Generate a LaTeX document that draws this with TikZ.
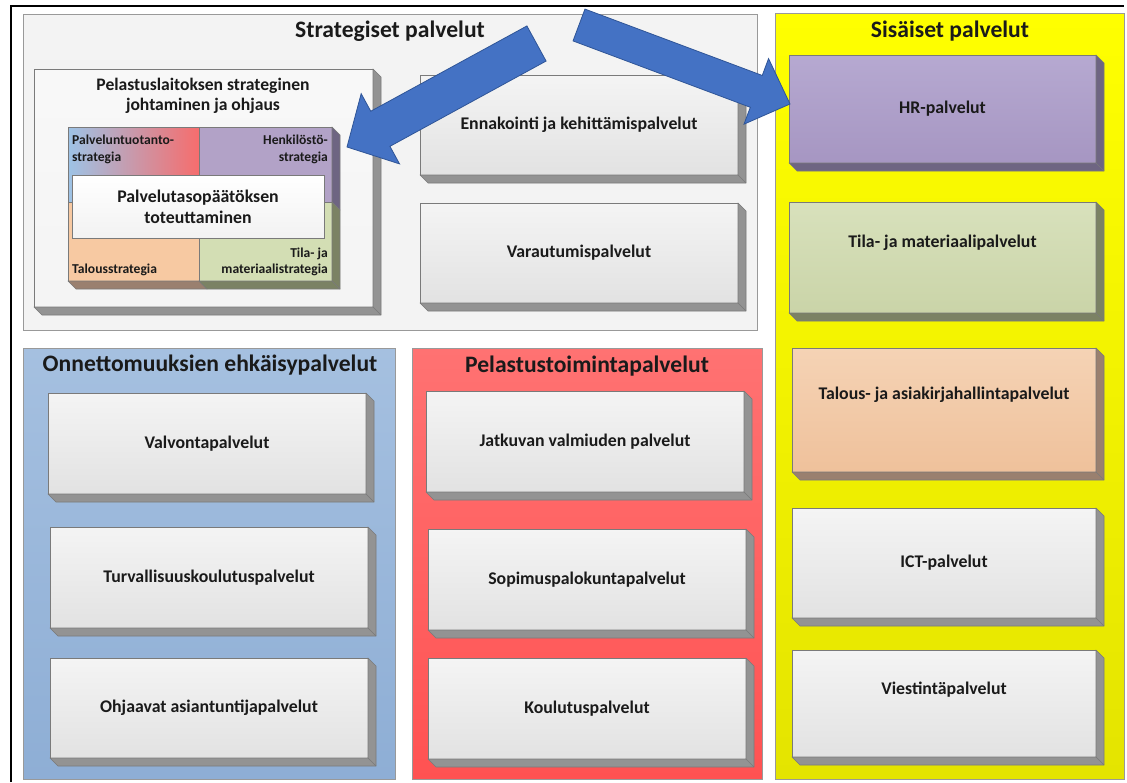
\documentclass[tikz,border=0pt]{standalone}
\usepackage{fontspec}
\setmainfont{Carlito}
\usetikzlibrary{calc}

\definecolor{boxtop}{HTML}{F4F4F4}
\definecolor{boxbot}{HTML}{E2E2E2}
\definecolor{boxside}{HTML}{939393}
\definecolor{edgegrey}{HTML}{7A7A7A}
\definecolor{stratfill}{HTML}{F3F3F3}
\definecolor{bluetop}{HTML}{A5C0E0}
\definecolor{bluebot}{HTML}{8EAED5}
\definecolor{redtop}{HTML}{FF7272}
\definecolor{redbot}{HTML}{FF5252}
\definecolor{yeltop}{HTML}{FFFF00}
\definecolor{yelbot}{HTML}{E4E400}
\definecolor{hrtop}{HTML}{B6A9D1}
\definecolor{hrbot}{HTML}{A696C2}
\definecolor{hrside}{HTML}{6E6582}
\definecolor{greentop}{HTML}{D8E1BC}
\definecolor{greenbot}{HTML}{CAD4A8}
\definecolor{greenside}{HTML}{7B8264}
\definecolor{peachtop}{HTML}{F5D3B5}
\definecolor{peachbot}{HTML}{EFC19B}
\definecolor{peachside}{HTML}{9A806F}
\definecolor{qblue}{HTML}{9DC3E6}
\definecolor{qred}{HTML}{F66D6D}
\definecolor{qpurple}{HTML}{B2A2C7}
\definecolor{qpeach}{HTML}{F7C9A2}
\definecolor{qgreen}{HTML}{D3DEB4}
\definecolor{arrowblue}{HTML}{4472C4}
\definecolor{arrowedge}{HTML}{2F5597}
\definecolor{ink}{HTML}{1A1A1A}

\tikzset{
  panel/.style={draw=black!40, line width=0.7pt},
  paneltitle/.style={font=\bfseries\fontsize{23.6}{28}\selectfont, text=ink, inner sep=0pt},
  face/.style={draw=edgegrey, line width=0.7pt, inner sep=0pt, outer sep=0pt,
    align=center, text=ink, font=\bfseries\fontsize{17.8}{21}\selectfont},
  greyface/.style={face, top color=boxtop, bottom color=boxbot},
  hrface/.style={face, top color=hrtop, bottom color=hrbot},
  greenface/.style={face, top color=greentop, bottom color=greenbot},
  peachface/.style={face, top color=peachtop, bottom color=peachbot},
  quad/.style={draw=edgegrey, line width=0.6pt, inner sep=0pt, outer sep=0pt},
  quadlabel/.style={font=\bfseries\fontsize{13.6}{16.5}\selectfont, text=ink, inner sep=0pt},
  sideface/.style={draw=edgegrey, line width=0.6pt, line join=round},
  blockarrow/.style={fill=arrowblue, draw=arrowedge, line width=0.8pt, line join=miter}
}

% raised box: name, x1, y1, x2, y2, front style, side colour, label
\newcommand\raisedbox[8]{%
  \node[#6, minimum width={(#4-#2)*1pt}, minimum height={(#5-#3)*1pt}]
    (#1) at ({(#2+#4)/2},{(#3+#5)/2}) {#8};
  \filldraw[sideface, fill=#7] (#1.north east) -- ++(8,8)
    -- ($(#1.south east)+(8,8)$) -- ($(#1.south west)+(8,8)$)
    -- (#1.south west) -- (#1.south east) -- cycle;
  \draw[sideface] (#1.south east) -- ++(8,8);
}

\begin{document}
\begin{tikzpicture}[x=1pt,y=-1pt]
\useasboundingbox[fill=white] (0,0) rectangle (1127,782);

% outer frame
\draw[line width=2.6pt] (11,782) -- (11,6) -- (1124,6);

% ---------- panels ----------
\filldraw[panel, fill=stratfill] (23,14) rectangle (757,330);
\node[paneltitle] (tstrat) at (390,31) {Strategiset palvelut};

\shade[top color=yeltop, bottom color=yelbot] (775,13) rectangle (1124,779);
\draw[panel] (775,13) rectangle (1124,779);
\node[paneltitle] (tsis) at (950,31) {Sisäiset palvelut};

\shade[top color=bluetop, bottom color=bluebot] (23,348) rectangle (395,779);
\draw[panel] (23,348) rectangle (395,779);
\node[paneltitle] (tonn) at (210,365) {Onnettomuuksien ehkäisypalvelut};

\shade[top color=redtop, bottom color=redbot] (412,348) rectangle (762,779);
\draw[panel] (412,348) rectangle (762,779);
\node[paneltitle] (tpel) at (587,366) {Pelastustoimintapalvelut};

% ---------- strategic management block ----------
\raisedbox{johto}{34}{69}{373}{307}{face, top color=boxtop!60!white, bottom color=boxtop}{boxside}{}
\node[align=center, font=\bfseries\fontsize{17.6}{20.5}\selectfont, text=ink, inner sep=0pt]
  (johtot) at (203,96) {Pelastuslaitoksen strateginen\\johtaminen ja ohjaus};

% four strategy quadrants
\node[quad, minimum width=131pt, minimum height=75pt, left color=qblue, right color=qred]
  (q1) at (133.5,164.5) {};
\node[quad, minimum width=133pt, minimum height=75pt, fill=qpurple] (q2) at (265.5,164.5) {};
\node[quad, minimum width=131pt, minimum height=79pt, fill=qpeach] (q3) at (133.5,241.5) {};
\node[quad, minimum width=133pt, minimum height=79pt, fill=qgreen] (q4) at (265.5,241.5) {};

\filldraw[sideface, fill=hrside] (q2.north east) -- ++(8,8) -- ($(q2.south east)+(8,8)$) -- (q2.south east) -- cycle;
\filldraw[sideface, fill=greenside] (q4.north east) -- ++(8,8) -- ($(q4.south east)+(8,8)$) -- (q4.south east) -- cycle;
\filldraw[sideface, fill=peachside] (q3.south west) -- ++(8,8) -- ($(q3.south east)+(8,8)$) -- (q3.south east) -- cycle;
\filldraw[sideface, fill=greenside] (q4.south west) -- ++(8,8) -- ($(q4.south east)+(8,8)$) -- (q4.south east) -- cycle;

\node[quadlabel, anchor=north west, align=left] (l1) at ($(q1.north west)+(4,8)$) {Palveluntuotanto-\\strategia};
\node[quadlabel, anchor=north east, align=right] (l2) at ($(q2.north east)+(-4,8)$) {Henkilöstö-\\strategia};
\node[quadlabel, anchor=south west, align=left] (l3) at ($(q3.south west)+(4,-5)$) {Talousstrategia};
\node[quadlabel, anchor=south east, align=right] (l4) at ($(q4.south east)+(-4,-5)$) {Tila- ja\\materiaalistrategia};

\node[draw=edgegrey, line width=0.6pt, top color=white, bottom color=white!95!black,
  minimum width=252pt, minimum height=63pt, inner sep=0pt, align=center, text=ink,
  font=\bfseries\fontsize{17.8}{21}\selectfont]
  (toteutus) at (198,206.5) {Palvelutasopäätöksen\\toteuttaminen};

% ---------- service boxes ----------
\raisedbox{enn}{420}{75}{738}{175}{greyface}{boxside}{Ennakointi ja kehittämispalvelut}
\raisedbox{var}{420}{203}{738}{303}{greyface}{boxside}{Varautumispalvelut}

\raisedbox{hr}{789}{55}{1096}{163}{hrface}{hrside}{HR-palvelut}
\raisedbox{tila}{789}{202}{1096}{313}{greenface}{greenside}{Tila- ja materiaalipalvelut\\[12pt]}
\raisedbox{talous}{792}{348}{1096}{472}{peachface}{peachside}{Talous- ja asiakirjahallintapalvelut\\[12pt]}
\raisedbox{ict}{792}{508}{1096}{618}{greyface}{boxside}{ICT-palvelut}
\raisedbox{viesti}{792}{650}{1096}{757}{greyface}{boxside}{Viestintäpalvelut\\[10pt]}

\raisedbox{valv}{48}{393}{366}{494}{greyface}{boxside}{Valvontapalvelut}
\raisedbox{turv}{50}{527}{368}{628}{greyface}{boxside}{Turvallisuuskoulutuspalvelut}
\raisedbox{ohj}{50}{658}{368}{758}{greyface}{boxside}{Ohjaavat asiantuntijapalvelut}

\raisedbox{jatk}{426}{391}{744}{492}{greyface}{boxside}{Jatkuvan valmiuden palvelut}
\raisedbox{sop}{428}{529}{746}{630}{greyface}{boxside}{Sopimuspalokuntapalvelut}
\raisedbox{koul}{428}{658}{746}{759}{greyface}{boxside}{Koulutuspalvelut}

% ---------- block arrows ----------
\coordinate (a1t) at (536.5,43.5);
\coordinate (a1h) at (347,147);
\coordinate (a1b) at ($(a1h)!38pt!(a1t)$);
\filldraw[blockarrow] ($(a1t)!20pt!90:(a1h)$) -- ($(a1b)!20pt!-90:(a1t)$)
  -- ($(a1b)!40pt!-90:(a1t)$) -- (a1h) -- ($(a1b)!40pt!90:(a1t)$)
  -- ($(a1b)!20pt!90:(a1t)$) -- ($(a1t)!20pt!-90:(a1h)$) -- cycle;

\coordinate (a2t) at (579,25);
\coordinate (a2h) at (790,104);
\coordinate (a2b) at ($(a2h)!36pt!(a2t)$);
\filldraw[blockarrow] ($(a2t)!17pt!90:(a2h)$) -- ($(a2b)!17pt!-90:(a2t)$)
  -- ($(a2b)!35pt!-90:(a2t)$) -- (a2h) -- ($(a2b)!35pt!90:(a2t)$)
  -- ($(a2b)!17pt!90:(a2t)$) -- ($(a2t)!17pt!-90:(a2h)$) -- cycle;
\end{tikzpicture}
\end{document}
